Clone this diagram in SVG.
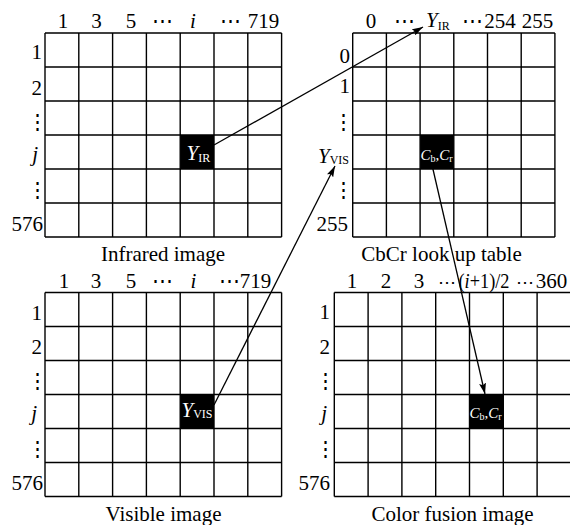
<svg xmlns="http://www.w3.org/2000/svg" width="570" height="525" viewBox="0 0 570 525">
<style>
.g{fill:none;stroke:#000;stroke-width:1.4}
.b{fill:#000}
text{font-family:"Liberation Serif","DejaVu Serif",serif;font-size:21px;fill:#000}
.m{text-anchor:middle}
.e{text-anchor:end}
.it{font-style:italic}
.w{fill:#fff}
.s{font-size:12px;font-style:normal}
.cs{font-size:10px;font-style:normal}
.c{stroke:#000;stroke-width:1.3;fill:none;marker-end:url(#ah)}
</style>
<defs>
<marker id="ah" markerUnits="userSpaceOnUse" markerWidth="11" markerHeight="7" refX="11" refY="3.5" orient="auto">
<path d="M0,0 L11,3.5 L0,7 L2,3.5 z" fill="#000"/>
</marker>
</defs>

<g id="infrared">
<rect class="b" x="180.2" y="135" width="33.8" height="34"/>
<path class="g" d="M45,33V237M78.8,33V237M112.6,33V237M146.4,33V237M180.2,33V237M214,33V237M247.8,33V237M281.6,33V237M45,33H281.6M45,67H281.6M45,101H281.6M45,135H281.6M45,169H281.6M45,203H281.6M45,237H281.6"/>
<text class="m" x="63" y="28">1</text>
<text class="m" x="96.5" y="28">3</text>
<text class="m" x="131" y="28">5</text>
<text class="m" x="162" y="28">⋯</text>
<text class="m it" x="193" y="28">i</text>
<text class="m" x="230" y="28">⋯</text>
<text class="m" x="263.5" y="28">719</text>
<text class="e" x="42" y="59">1</text>
<text class="e" x="42" y="95">2</text>
<text class="m" x="37" y="129">⋮</text>
<text class="e it" x="38" y="161">j</text>
<text class="m" x="37" y="197">⋮</text>
<text class="e" x="43" y="231">576</text>
<text class="w it" x="186.5" y="160">Y<tspan class="s" dy="1.5">IR</tspan></text>
<text class="m" x="163" y="261">Infrared image</text>
</g>

<g id="lut">
<rect class="b" x="420.1" y="135" width="33.7" height="34"/>
<path class="g" d="M352.7,33V237M386.4,33V237M420.1,33V237M453.8,33V237M487.5,33V237M521.2,33V237M554.9,33V237M352.7,33H554.9M352.7,67H554.9M352.7,101H554.9M352.7,135H554.9M352.7,169H554.9M352.7,203H554.9M352.7,237H554.9"/>
<text class="m" x="371" y="28">0</text>
<text class="m" x="404" y="28">⋯</text>
<text class="it" x="426" y="27">Y<tspan class="s" dy="3">IR</tspan></text>
<text class="m" x="472" y="28">⋯</text>
<text class="m" x="500" y="28">254</text>
<text class="m" x="537.5" y="28">255</text>
<text class="e" x="350" y="63">0</text>
<text class="e" x="350" y="93">1</text>
<text class="m" x="343" y="129">⋮</text>
<text class="it" x="318" y="163">Y<tspan class="s" dy="1">VIS</tspan></text>
<text class="m" x="343" y="197">⋮</text>
<text class="e" x="348" y="231">255</text>
<text class="w it" x="420.5" y="160" style="font-size:15px">C<tspan class="cs" dy="2">b</tspan><tspan style="font-style:normal" dy="-2">,</tspan>C<tspan class="cs" dy="2">r</tspan></text>
<text class="m" x="441.5" y="261">CbCr look up table</text>
</g>

<g id="visible">
<rect class="b" x="180.2" y="394.5" width="33.8" height="34"/>
<path class="g" d="M45,292.5V496.5M78.8,292.5V496.5M112.6,292.5V496.5M146.4,292.5V496.5M180.2,292.5V496.5M214,292.5V496.5M247.8,292.5V496.5M281.6,292.5V496.5M45,292.5H281.6M45,326.5H281.6M45,360.5H281.6M45,394.5H281.6M45,428.5H281.6M45,462.5H281.6M45,496.5H281.6"/>
<text class="m" x="64" y="288">1</text>
<text class="m" x="96" y="288">3</text>
<text class="m" x="131" y="288">5</text>
<text class="m" x="162.5" y="288">⋯</text>
<text class="m it" x="193.5" y="288">i</text>
<text class="m" x="229" y="288">⋯</text>
<text class="m" x="255.5" y="288">719</text>
<text class="e" x="42" y="320">1</text>
<text class="e" x="42" y="354">2</text>
<text class="m" x="37" y="388">⋮</text>
<text class="e it" x="37" y="420">j</text>
<text class="m" x="37" y="456">⋮</text>
<text class="e" x="43" y="490">576</text>
<text class="w it" x="181.5" y="417">Y<tspan class="s" dy="0.5">VIS</tspan></text>
<text class="m" x="163.5" y="521">Visible image</text>
</g>

<g id="fusion">
<rect class="b" x="469.5" y="394.5" width="33.8" height="34"/>
<path class="g" d="M334.3,292.5V496.5M368.1,292.5V496.5M401.9,292.5V496.5M435.7,292.5V496.5M469.5,292.5V496.5M503.3,292.5V496.5M537.1,292.5V496.5M570.9,292.5V496.5M334.3,292.5H570.9M334.3,326.5H570.9M334.3,360.5H570.9M334.3,394.5H570.9M334.3,428.5H570.9M334.3,462.5H570.9M334.3,496.5H570.9"/>
<text class="m" x="352" y="288">1</text>
<text class="m" x="386" y="288">2</text>
<text class="m" x="419" y="288">3</text>
<text class="m" x="447" y="288" style="font-size:18px">⋯</text>
<text x="458.5" y="288" textLength="51" lengthAdjust="spacingAndGlyphs">(<tspan class="it">i</tspan>+1)/2</text>
<text class="m" x="525" y="288" style="font-size:18px">⋯</text>
<text class="m" x="551.5" y="288">360</text>
<text class="e" x="330" y="319">1</text>
<text class="e" x="330" y="354">2</text>
<text class="m" x="325" y="388">⋮</text>
<text class="e it" x="327" y="420">j</text>
<text class="m" x="325" y="456">⋮</text>
<text class="e" x="330" y="490">576</text>
<text class="w it" x="469.5" y="418" style="font-size:15px">C<tspan class="cs" dy="2">b</tspan><tspan style="font-style:normal" dy="-2">,</tspan>C<tspan class="cs" dy="2">r</tspan></text>
<text class="m" x="452.5" y="521">Color fusion image</text>
</g>

<g id="connectors">
<path class="c" d="M214,145 L423,27"/>
<path class="c" d="M214,405 L335,166"/>
<path class="c" d="M432,165 L485,394"/>
</g>
</svg>
